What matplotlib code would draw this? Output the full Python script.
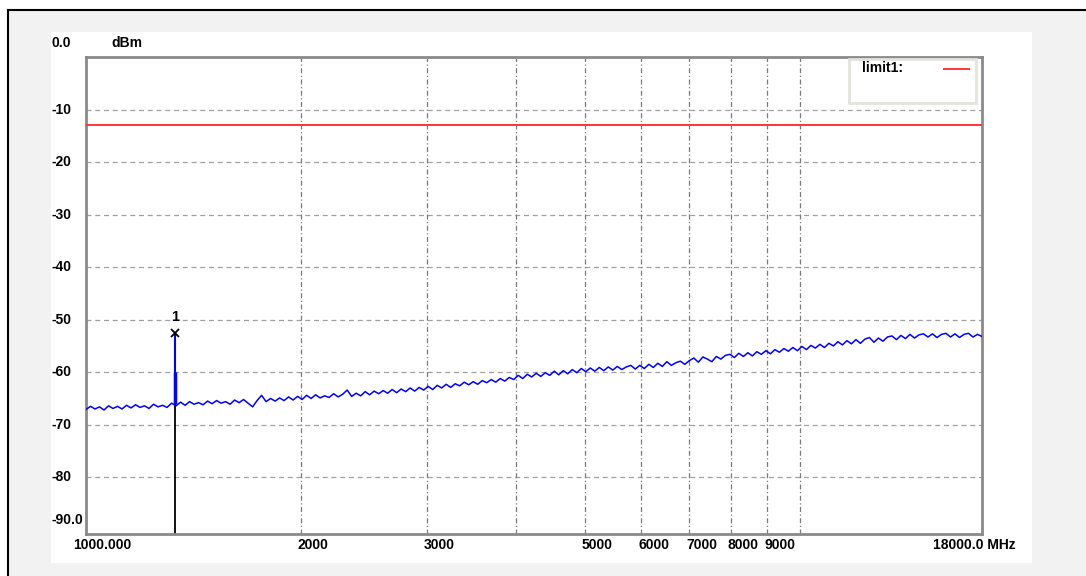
import numpy as np
import matplotlib
matplotlib.use("Agg")
import matplotlib.pyplot as plt
import matplotlib.transforms as mtransforms
from matplotlib.patches import Rectangle
from matplotlib.lines import Line2D

plt.rcParams['font.family'] = ['Liberation Sans', 'DejaVu Sans']

# sweep levels (dBm), evenly spread over the log frequency axis 1000..18000 MHz
trace_dbm = [
    -67.1, -66.5, -67.0, -66.6, -67.2, -66.4, -66.9, -66.5, -67.0, -66.3,
    -66.8, -66.2, -66.7, -66.4, -66.9, -66.1, -66.6, -66.3, -66.7, -65.9,
    -66.4, -65.7, -66.3, -65.6, -66.1, -65.8, -66.2, -65.5, -66.0, -65.4,
    -65.9, -65.6, -66.1, -65.3, -65.8, -65.2, -65.9, -66.6, -65.4, -64.4,
    -65.6, -65.0, -65.5, -64.9, -65.4, -64.7, -65.3, -64.6,
    -65.2, -64.4, -65.0, -64.3, -64.9, -64.5, -64.8, -64.1, -64.7, -64.2,
    -63.4, -64.6, -64.0, -64.5, -63.7, -64.3, -63.6, -64.1, -63.5, -64.0,
    -63.3, -63.9, -63.2, -63.7, -63.0, -63.6, -62.9, -63.4,
    -62.7, -63.3, -62.5, -63.0, -62.3, -62.9, -62.2, -62.6, -61.9, -62.4,
    -61.8, -62.3, -61.6, -62.0, -61.4, -61.9, -61.2, -61.7, -61.0, -61.4,
    -60.6, -61.2, -60.4, -60.9, -60.2, -60.8, -60.1, -60.6, -59.8, -60.5,
    -59.7, -60.3, -59.5, -60.1,
    -59.3, -59.9, -59.2, -59.8, -59.1, -59.7, -59.0, -59.6, -58.9, -59.5,
    -59.0, -58.7, -59.4,
    -58.7, -59.3, -58.5, -59.1, -58.3, -58.9, -58.0, -58.7, -58.2, -57.9, -58.5,
    -57.8, -57.3, -58.1, -57.1, -57.5, -58.0, -57.0, -57.5, -56.8,
    -56.6, -57.2, -56.4, -57.0, -56.3, -56.9, -56.1, -56.6,
    -55.9, -56.5, -55.7, -56.2, -55.5, -56.0, -55.3, -55.9,
    -55.1, -55.7, -54.9, -55.4, -54.7, -55.3, -54.5, -55.0, -54.2, -54.8,
    -54.0, -54.6, -53.8, -54.5, -53.7, -53.4, -54.3, -53.5, -54.1, -53.3,
    -53.1, -53.8, -53.0, -53.6, -52.8, -53.5, -52.9, -52.7,
    -53.3, -52.7, -53.4, -52.8, -52.6, -53.3, -52.7, -53.4, -52.8, -52.6,
    -53.3, -52.8, -53.2,
]
f_start, f_stop = 1000, 18000
trace_mhz = np.geomspace(f_start, f_stop, len(trace_dbm))

limit_dbm = -13.0

marker_mhz = 1333
marker_dbm = -52.5
marker_base_dbm = -66.0
marker_mid_dbm = -60.0

ytick_vals = [-10, -20, -30, -40, -50, -60, -70, -80]
xgrid_vals = [2000, 3000, 4000, 5000, 6000, 7000, 8000, 9000, 10000]
xlabel_vals = [1000, 2000, 3000, 5000, 6000, 7000, 8000, 9000, 18000]
xlabel_txt = ["1000.000", "2000", "3000", "5000", "6000", "7000", "8000", "9000", "18000.0 MHz"]

fig = plt.figure(figsize=(10.86, 5.76), dpi=100)
fig.patch.set_facecolor("white")

# window frame
fig.patches.append(Rectangle((8/1086, 0), 1, 1 - 10/576, transform=fig.transFigure,
                             facecolor="#f2f2f2", edgecolor="none", zorder=-3))
fig.lines.append(Line2D([8/1086, 1], [1 - 10/576, 1 - 10/576], transform=fig.transFigure,
                        color="black", lw=1.5))
fig.lines.append(Line2D([8/1086, 8/1086], [0, 1 - 10/576], transform=fig.transFigure,
                        color="black", lw=1.5))
fig.patches.append(Rectangle((51/1086, 1 - 563/576), 981/1086, 531/576, transform=fig.transFigure,
                             facecolor="white", edgecolor="none", zorder=-2))

ax = fig.add_axes([86/1086, 1 - 534/576, 896/1086, 477/576])
ax.set_xscale("log")
ax.set_xlim(f_start, f_stop)
ax.set_ylim(-90.8, 0)
ax.set_facecolor("white")

for s in ax.spines.values():
    s.set_color("#8a8a8a")
    s.set_linewidth(2)

ax.set_xticks([])
ax.set_yticks([])
ax.xaxis.set_minor_locator(matplotlib.ticker.NullLocator())

for v in ytick_vals:
    ax.axhline(v, color="#a0a0a0", lw=0.9, ls=(0, (4, 3)), zorder=1)
for v in xgrid_vals:
    ax.axvline(v, color="#7a7a7a", lw=0.9, ls=(0, (4, 2, 1, 2)), zorder=1)

# limit line
ax.axhline(limit_dbm, color="#ff3333", lw=1.4, zorder=3)

# marker stem and trace
ax.vlines(marker_mhz, -90.8, marker_dbm, color="black", lw=1.3, zorder=2)
ax.plot(trace_mhz, trace_dbm, color="#0000ff", lw=1.1, zorder=4)
ax.vlines(marker_mhz, marker_base_dbm, marker_dbm, color="#0000ff", lw=1.5, zorder=5)
ax.vlines(marker_mhz, marker_base_dbm, marker_mid_dbm, color="#0000ff", lw=2.5, zorder=5)
ax.plot([marker_mhz], [marker_dbm], marker="x", color="black", ms=6, mew=1.3, zorder=6)
ax.annotate("1", (marker_mhz, marker_dbm), xytext=(0, 6), textcoords="offset points",
            ha="center", va="bottom", fontsize=10.5, fontweight="bold")

# y labels
ytr = ax.get_yaxis_transform()
for v in ytick_vals:
    ax.text(-0.038, v, str(v), transform=ytr, ha="left", va="center",
            fontsize=10, fontweight="bold")
ax.text(-0.038, 1.029, "0.0", transform=ax.transAxes, ha="left", va="center",
        fontsize=10, fontweight="bold")
ax.text(-0.038, 0.029, "-90.0", transform=ax.transAxes, ha="left", va="center",
        fontsize=10, fontweight="bold")
ax.text(0.028, 1.029, "dBm", transform=ax.transAxes, ha="left", va="center",
        fontsize=10, fontweight="bold")

# x labels
xtr = ax.get_xaxis_transform()
for v, t in zip(xlabel_vals, xlabel_txt):
    if v == f_start:
        dx = -13
    elif v == f_stop:
        dx = -49
    else:
        dx = -3
    tr = mtransforms.offset_copy(xtr, fig=fig, x=dx, y=0, units="dots")
    ax.text(v, -0.023, t, transform=tr, ha="left", va="center",
            fontsize=10, fontweight="bold")

# legend box
ax.add_patch(Rectangle((0.8516, 0.904), 0.1414, 0.092, transform=ax.transAxes,
                       facecolor="white", edgecolor="#e4e4de", lw=2, zorder=7))
ax.text(0.866, 0.977, "limit1:", transform=ax.transAxes, ha="left", va="center",
        fontsize=10, fontweight="bold", zorder=8)
ax.plot([0.9576, 0.9855], [0.975, 0.975], transform=ax.transAxes, color="#ff3333",
        lw=1.4, zorder=8)

fig.savefig("out.png", dpi=100)
